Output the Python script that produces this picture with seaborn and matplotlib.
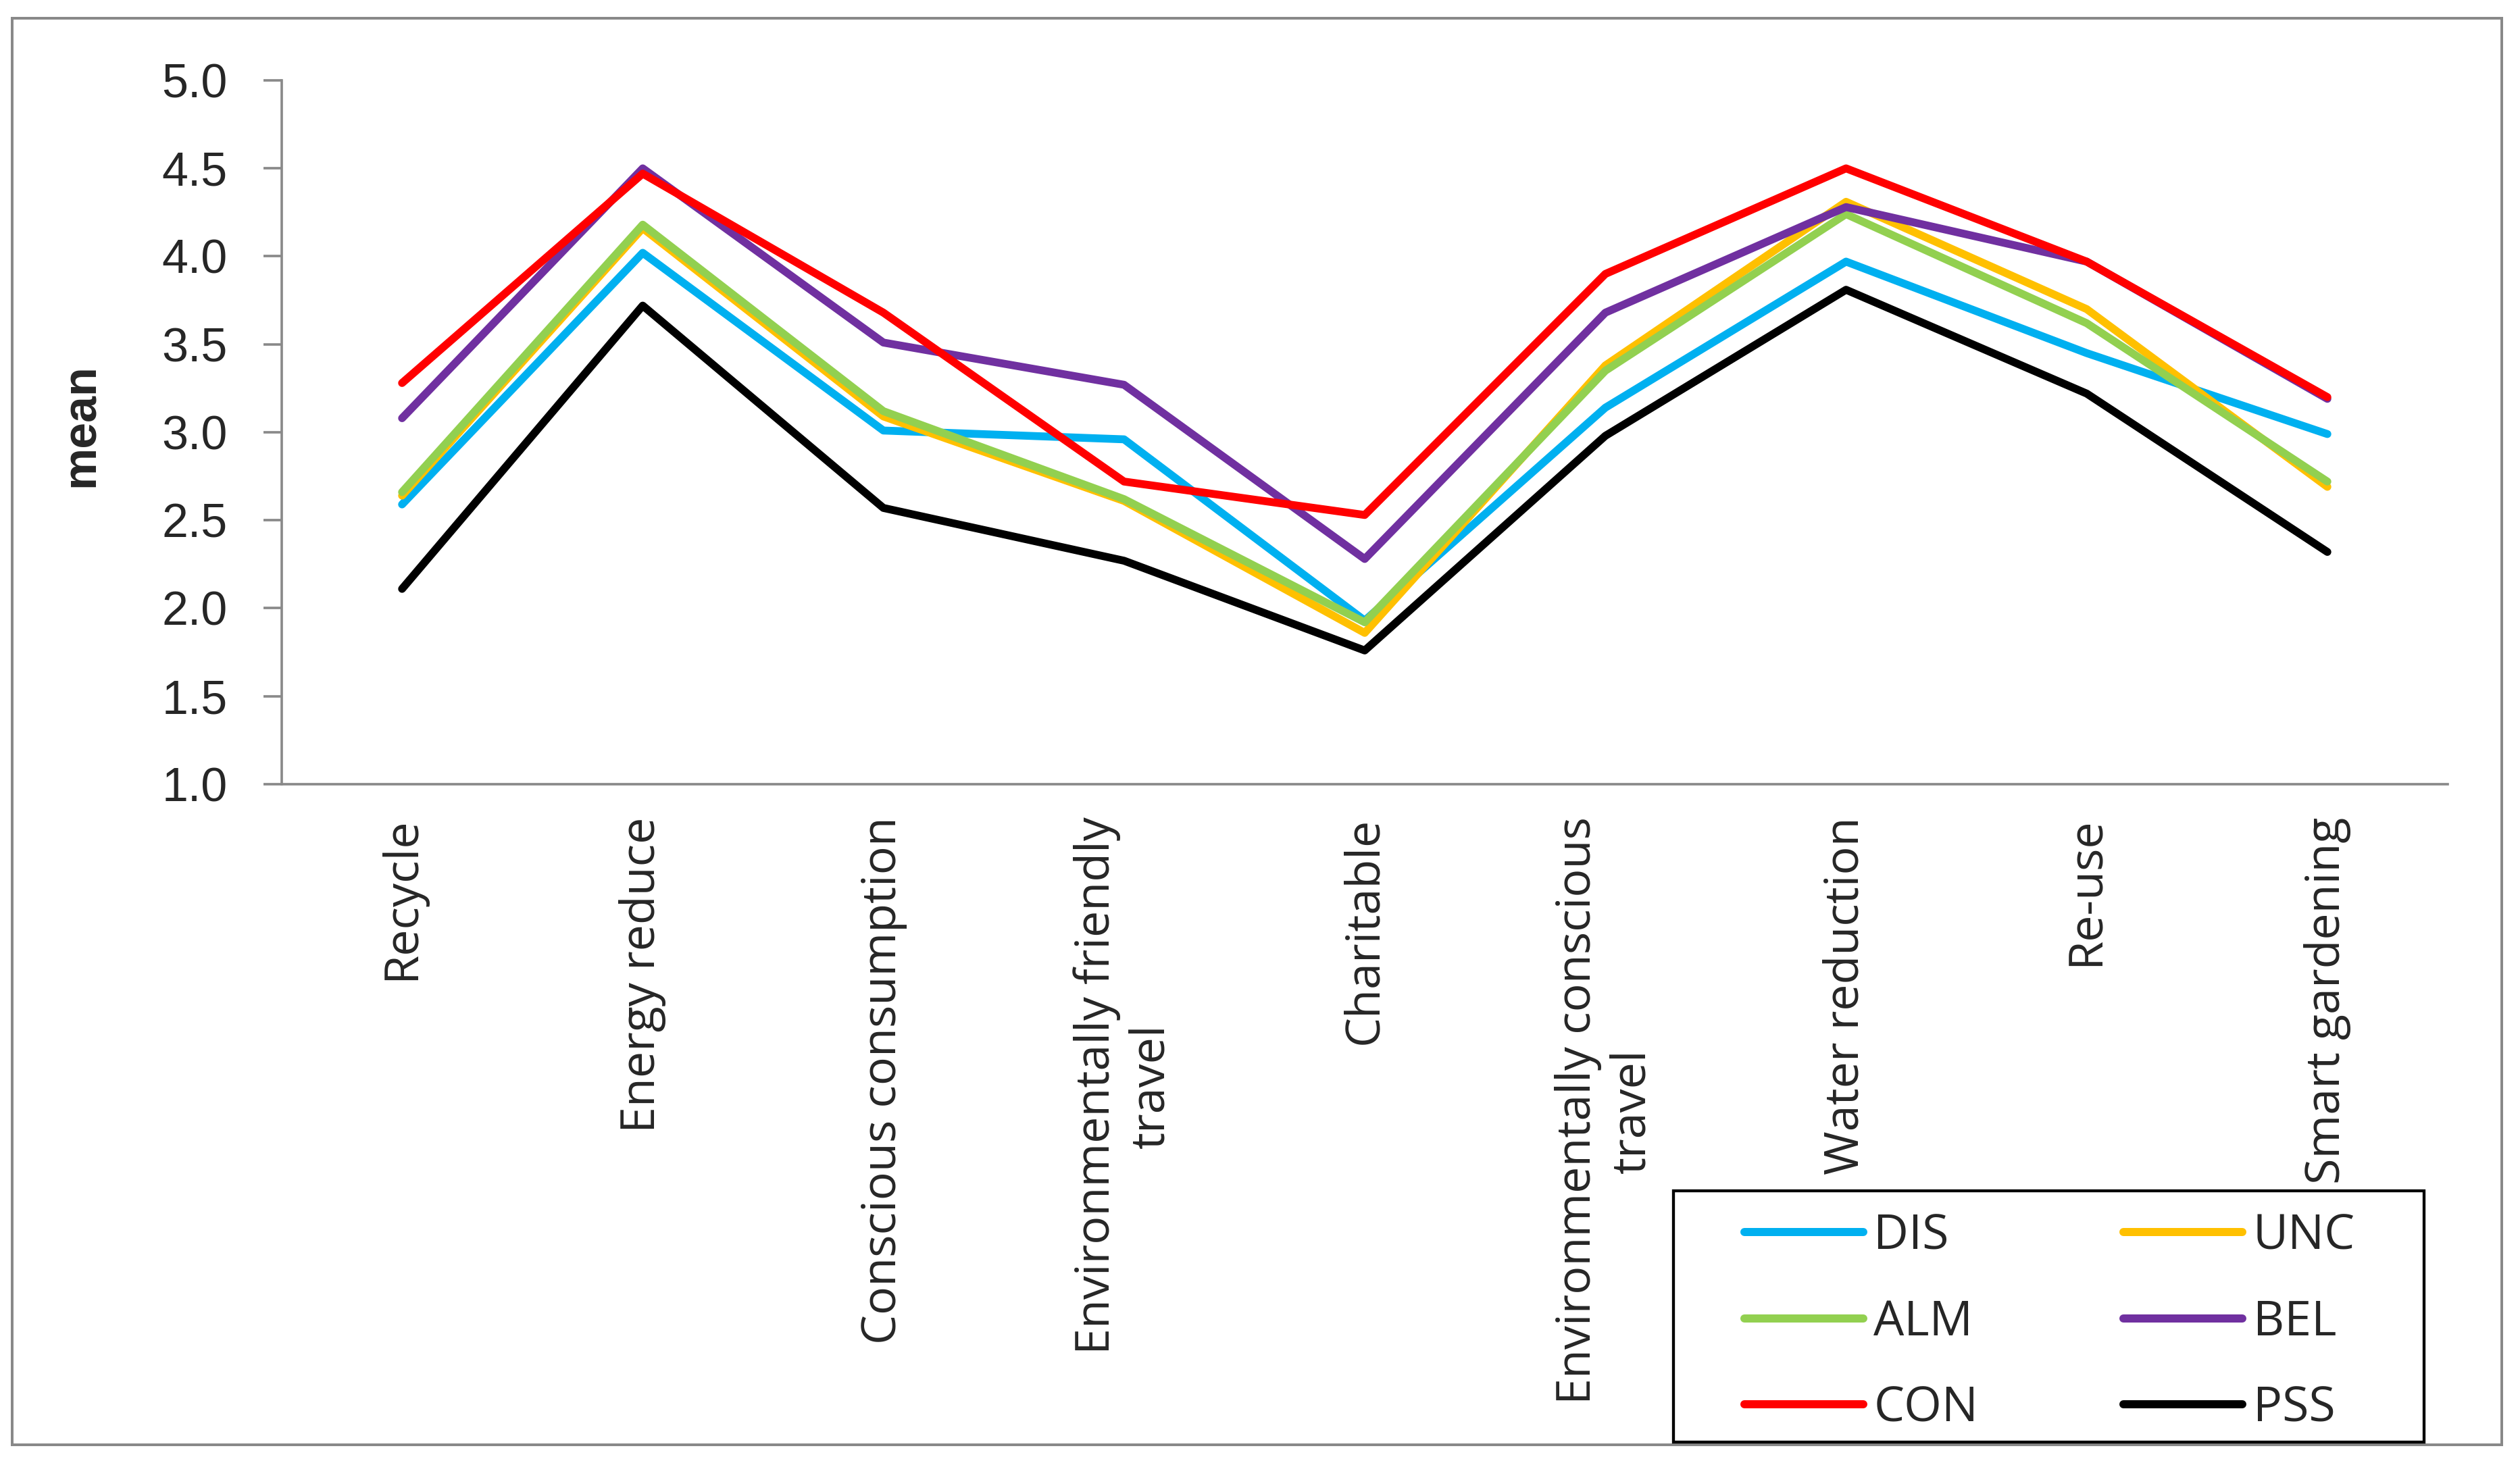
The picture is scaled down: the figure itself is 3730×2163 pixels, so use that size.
import numpy as np
import pandas as pd
import seaborn as sns
import matplotlib.pyplot as plt
from matplotlib.patches import Rectangle

# behaviours on the x axis
categories = ["Recycle", "Energy reduce", "Conscious consumption",
              "Environmentally friendly travel", "Charitable",
              "Environmentally conscious travel", "Water reduction",
              "Re-use", "Smart gardening"]
tick_labels = ["Recycle", "Energy reduce", "Conscious consumption",
               "Environmentally friendly\ntravel", "Charitable",
               "Environmentally conscious\ntravel", "Water reduction",
               "Re-use", "Smart gardening"]

# mean score per segment
DIS = [2.59, 4.02, 3.01, 2.96, 1.93, 3.14, 3.97, 3.45, 2.99]
UNC = [2.64, 4.16, 3.09, 2.61, 1.86, 3.38, 4.31, 3.70, 2.69]
ALM = [2.66, 4.18, 3.12, 2.62, 1.92, 3.35, 4.24, 3.62, 2.72]
BEL = [3.08, 4.50, 3.51, 3.27, 2.28, 3.68, 4.28, 3.97, 3.19]
CON = [3.28, 4.47, 3.68, 2.72, 2.53, 3.90, 4.50, 3.97, 3.20]
PSS = [2.11, 3.72, 2.57, 2.27, 1.76, 2.98, 3.81, 3.22, 2.32]

groups = ["DIS", "UNC", "ALM", "BEL", "CON", "PSS"]
colors = {"DIS": "#00B0F0", "UNC": "#FFC000", "ALM": "#92D050",
          "BEL": "#7030A0", "CON": "#FF0000", "PSS": "#000000"}

series = {"DIS": DIS, "UNC": UNC, "ALM": ALM, "BEL": BEL, "CON": CON, "PSS": PSS}
rows = []
for g in groups:
    for c, v in zip(categories, series[g]):
        rows.append([g, c, v])
df = pd.DataFrame(rows, columns=["group", "behaviour", "mean"])

sns.set_theme(style="white")
plt.rcParams["font.family"] = ["Open Sans", "DejaVu Sans"]

W, H, DPI = 3730, 2163, 240
fig = plt.figure(figsize=(W / DPI, H / DPI), dpi=DPI)
ax = fig.add_axes([417 / W, 1 - 1161 / H, (3623 - 417) / W, (1161 - 119) / H])

sns.lineplot(data=df, x="behaviour", y="mean", hue="group", hue_order=groups,
             palette=colors, sort=False, linewidth=3.5, errorbar=None, ax=ax)

grey = "#898989"
ax.set_xlim(-0.5, 8.5)
ax.set_ylim(1, 5)
ax.set_yticks(np.arange(1, 5.01, 0.5))
ax.set_yticklabels([f"{t:.1f}" for t in np.arange(1, 5.01, 0.5)],
                   fontfamily="Liberation Sans", fontsize=21)
ax.set_xticks(range(len(categories)))
ax.set_xticklabels(tick_labels, rotation=90, fontsize=21)
ax.set_xticks(np.arange(-0.5, 9, 1), minor=True)
ax.tick_params(axis="x", which="major", length=0, pad=14.5)
ax.tick_params(axis="x", which="minor", length=7.8, width=1.1, color=grey, direction="out")
ax.tick_params(axis="y", length=8, width=1.1, color=grey, direction="out", pad=16, left=True)
ax.set_xlabel("")
ax.set_ylabel("mean", fontfamily="Liberation Sans", fontweight="bold", fontsize=21)
ax.yaxis.set_label_coords(-0.082, 0.51)
for s in ["top", "right"]:
    ax.spines[s].set_visible(False)
for s in ["left", "bottom"]:
    ax.spines[s].set_color(grey)
    ax.spines[s].set_linewidth(1.1)

# legend: take seaborn's handles, draw it at figure level in 2 columns
handles, labels = ax.get_legend_handles_labels()
ax.get_legend().remove()
order = [0, 2, 4, 1, 3, 5]
fig.patches.append(Rectangle((2477 / W, 1 - 2135 / H), 1111 / W, 372 / H,
                             transform=fig.transFigure, facecolor="white",
                             edgecolor="black", linewidth=1.3, zorder=2))
leg = fig.legend([handles[i] for i in order], [labels[i] for i in order],
                 loc="center left", bbox_to_anchor=(2582 / W, 1 - 1958 / H),
                 ncol=2, frameon=False, fontsize=21.5, borderpad=0, borderaxespad=0,
                 handlelength=2.45, handletextpad=0.22, columnspacing=3.0,
                 labelspacing=0.78)
leg.set_zorder(3)
for line in leg.get_lines():
    line.set_linewidth(3.6)

# grey outer frame round the chart
fig.patches.append(Rectangle((18 / W, 24 / H), (3703 - 18) / W, (2163 - 27 - 24) / H,
                             transform=fig.transFigure, fill=False,
                             edgecolor=grey, linewidth=1.2, zorder=1))

fig.savefig("out.png", dpi=DPI)
